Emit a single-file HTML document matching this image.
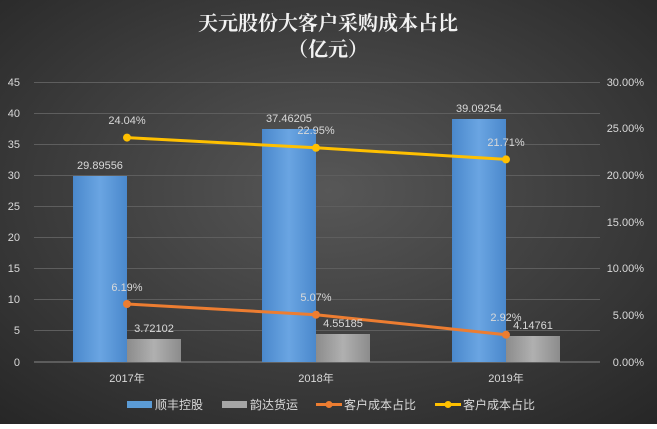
<!DOCTYPE html>
<html><head><meta charset="utf-8"><style>
body{margin:0;}
svg text{font-family:"Liberation Sans","Noto Sans CJK SC",sans-serif;}
</style></head><body>
<svg width="657" height="424" xmlns="http://www.w3.org/2000/svg">
<defs>
<radialGradient id="bg" cx="50%" cy="45%" r="75%">
<stop offset="0" stop-color="#575757"/><stop offset="1" stop-color="#262626"/>
</radialGradient>
<linearGradient id="bb" x1="0" x2="1"><stop offset="0" stop-color="#4a88cc"/><stop offset="0.5" stop-color="#6aa5e2"/><stop offset="1" stop-color="#4a88cc"/></linearGradient>
<linearGradient id="gb" x1="0" x2="1"><stop offset="0" stop-color="#8c8c8c"/><stop offset="0.5" stop-color="#b0b0b0"/><stop offset="1" stop-color="#8c8c8c"/></linearGradient>
</defs>
<rect width="657" height="424" fill="url(#bg)"/>
<text x="328" y="30" text-anchor="middle" font-size="20" font-weight="bold" fill="#f2f2f2" style="font-family:'Noto Serif CJK SC',serif">天元股份大客户采购成本占比</text>
<text x="328" y="56" text-anchor="middle" font-size="20" font-weight="bold" fill="#f2f2f2" style="font-family:'Noto Serif CJK SC',serif">（亿元）</text>
<g stroke="#5e5e5e" stroke-width="1">
<line x1="34" x2="600" y1="82.5" y2="82.5"/><line x1="34" x2="600" y1="113.5" y2="113.5"/><line x1="34" x2="600" y1="144.5" y2="144.5"/><line x1="34" x2="600" y1="175.5" y2="175.5"/><line x1="34" x2="600" y1="206.5" y2="206.5"/><line x1="34" x2="600" y1="237.5" y2="237.5"/><line x1="34" x2="600" y1="268.5" y2="268.5"/><line x1="34" x2="600" y1="299.5" y2="299.5"/><line x1="34" x2="600" y1="330.5" y2="330.5"/>
</g>
<line x1="34" x2="600" y1="362" y2="362" stroke="#888"/>
<g font-size="11" fill="#d9d9d9" text-anchor="end">
<text x="20" y="86">45</text><text x="20" y="117">40</text><text x="20" y="148">35</text><text x="20" y="179">30</text><text x="20" y="210">25</text><text x="20" y="241">20</text><text x="20" y="272">15</text><text x="20" y="303">10</text><text x="20" y="334">5</text><text x="20" y="366">0</text>
</g>
<g font-size="11" fill="#d9d9d9" text-anchor="end">
<text x="644" y="86">30.00%</text><text x="644" y="132">25.00%</text><text x="644" y="179">20.00%</text><text x="644" y="226">15.00%</text><text x="644" y="272">10.00%</text><text x="644" y="319">5.00%</text><text x="644" y="366">0.00%</text>
</g>
<rect x="73" y="176" width="54" height="186" fill="url(#bb)"/>
<rect x="127" y="339" width="54" height="23" fill="url(#gb)"/>
<rect x="262" y="129" width="54" height="233" fill="url(#bb)"/>
<rect x="316" y="334" width="54" height="28" fill="url(#gb)"/>
<rect x="452" y="119" width="54" height="243" fill="url(#bb)"/>
<rect x="506" y="336" width="54" height="26" fill="url(#gb)"/>
<polyline points="127,304 316,314.7 506,334.7" fill="none" stroke="#ed7d31" stroke-width="3"/>
<circle cx="127" cy="304" r="4" fill="#ed7d31"/><circle cx="316" cy="314.7" r="4" fill="#ed7d31"/><circle cx="506" cy="334.7" r="4" fill="#ed7d31"/>
<polyline points="127,137.6 316,147.8 506,159.4" fill="none" stroke="#ffc000" stroke-width="3"/>
<circle cx="127" cy="137.6" r="4" fill="#ffc000"/><circle cx="316" cy="147.8" r="4" fill="#ffc000"/><circle cx="506" cy="159.4" r="4" fill="#ffc000"/>
<g font-size="11" fill="#d9d9d9" text-anchor="middle">
<text x="100" y="169">29.89556</text><text x="154" y="332">3.72102</text>
<text x="289" y="122">37.46205</text><text x="343" y="327">4.55185</text>
<text x="479" y="112">39.09254</text><text x="533" y="329">4.14761</text>
<text x="127" y="124">24.04%</text><text x="316" y="134">22.95%</text><text x="506" y="146">21.71%</text>
<text x="127" y="291">6.19%</text><text x="316" y="301">5.07%</text><text x="506" y="321">2.92%</text>
<text x="127" y="382">2017年</text><text x="316" y="382">2018年</text><text x="506" y="382">2019年</text>
</g>
<g font-size="12" fill="#d9d9d9">
<rect x="127" y="401" width="25" height="7" fill="#5b9bd5"/><text x="155" y="409">顺丰控股</text>
<rect x="222" y="401" width="25" height="7" fill="#a5a5a5"/><text x="250" y="409">韵达货运</text>
<line x1="316" x2="342" y1="404.5" y2="404.5" stroke="#ed7d31" stroke-width="3"/><circle cx="329" cy="404.5" r="3.5" fill="#ed7d31"/><text x="344" y="409">客户成本占比</text>
<line x1="435" x2="461" y1="404.5" y2="404.5" stroke="#ffc000" stroke-width="3"/><circle cx="448" cy="404.5" r="3.5" fill="#ffc000"/><text x="463" y="409">客户成本占比</text>
</g>
</svg>
</body></html>
